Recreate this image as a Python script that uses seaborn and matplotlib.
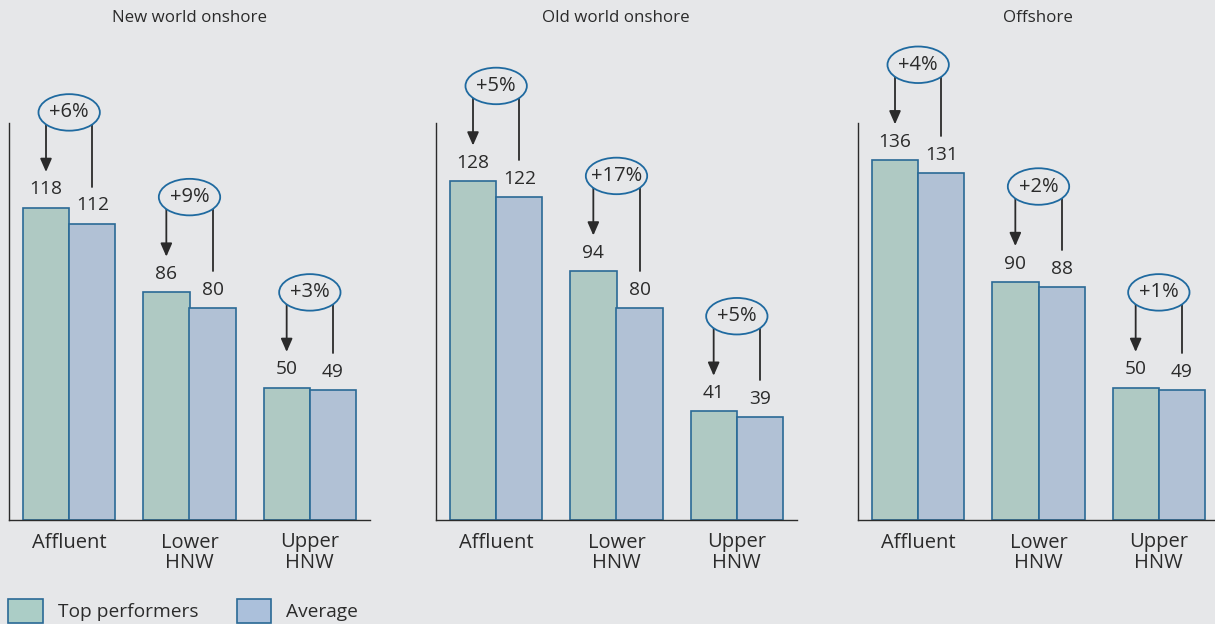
import seaborn as sns
import matplotlib.pyplot as plt
import pandas as pd
from matplotlib.patches import Ellipse, Patch

# data
panels = ['New world onshore', 'Old world onshore', 'Offshore']
segments = ['Affluent', 'Lower\nHNW', 'Upper\nHNW']
top_performers = [[118, 86, 50], [128, 94, 41], [136, 90, 50]]
average = [[112, 80, 49], [122, 80, 39], [131, 88, 49]]
uplift = [['+6%', '+9%', '+3%'], ['+5%', '+17%', '+5%'], ['+4%', '+2%', '+1%']]
series = ['Top performers', 'Average']

bg = '#e6e7e9'
green = '#abcdc6'
blue = '#abc0db'
edge = '#2a6a96'
ink = '#2b2b2b'

sns.set_style('white')
plt.rcParams['font.family'] = ['Open Sans', 'DejaVu Sans']

fig = plt.figure(figsize=(12.15, 6.24), dpi=100, facecolor=bg)
lefts = [9, 436, 858]
W = 0.77

for p, left in enumerate(lefts):
    ax = fig.add_axes([left / 1215, 104 / 624, 361 / 1215, 397 / 624])
    ax.set_facecolor(bg)
    df = pd.DataFrame({
        'Segment': segments * 2,
        'Group': [series[0]] * 3 + [series[1]] * 3,
        'Value': top_performers[p] + average[p],
    })
    sns.barplot(data=df, x='Segment', y='Value', hue='Group', palette=[green, blue],
                width=W, gap=0, edgecolor=edge, linewidth=1.2, legend=False, ax=ax)
    ax.set_xlim(-0.5, 2.5)
    ax.set_ylim(0, 150)
    ax.set_xlabel('')
    ax.set_ylabel('')
    ax.set_yticks([])
    ax.tick_params(axis='x', length=0, pad=9, labelsize=14.5, colors=ink)
    for lab in ax.get_xticklabels():
        lab.set_linespacing(1.0)
    sns.despine(ax=ax)
    for s in ['left', 'bottom']:
        ax.spines[s].set_color(ink)
        ax.spines[s].set_linewidth(1.0)

    for i in range(3):
        tp = top_performers[p][i]
        av = average[p][i]
        gx = i - W / 4
        bx = i + W / 4
        ax.text(gx, tp + 3.5, str(tp), ha='center', va='bottom', fontsize=13.8, color=ink)
        ax.text(bx, av + 3.5, str(av), ha='center', va='bottom', fontsize=13.8, color=ink)
        top = tp + 36
        ax.annotate('', xy=(gx, tp + 13.5), xytext=(gx, top),
                    arrowprops=dict(arrowstyle='-|>,head_length=0.8,head_width=0.35',
                                    color=ink, lw=1.3, shrinkA=0, shrinkB=0),
                    annotation_clip=False)
        ax.plot([bx, bx], [top, av + 14], color=ink, lw=1.3, clip_on=False)
        ax.add_patch(Ellipse((i, top), 0.51, 13.8, facecolor=bg, edgecolor='#1f6aa0',
                             lw=1.3, clip_on=False, zorder=5))
        ax.text(i, top, uplift[p][i], ha='center', va='center', fontsize=14.5,
                color=ink, zorder=6)

    fig.text((left + 180) / 1215, 1 - 18 / 624, panels[p], ha='center', va='center',
             fontsize=12.2, color=ink)

handles = [Patch(facecolor=green, edgecolor=edge, lw=1.2),
           Patch(facecolor=blue, edgecolor=edge, lw=1.2)]
fig.legend(handles, series, loc='center left', bbox_to_anchor=(8 / 1215, 13 / 624),
           ncol=2, frameon=False, fontsize=13.8, handlelength=1.8, handleheight=1.6,
           handletextpad=0.8, columnspacing=2.0, borderpad=0, borderaxespad=0,
           labelcolor=ink)

fig.savefig('out.png', dpi=100, facecolor=bg)
